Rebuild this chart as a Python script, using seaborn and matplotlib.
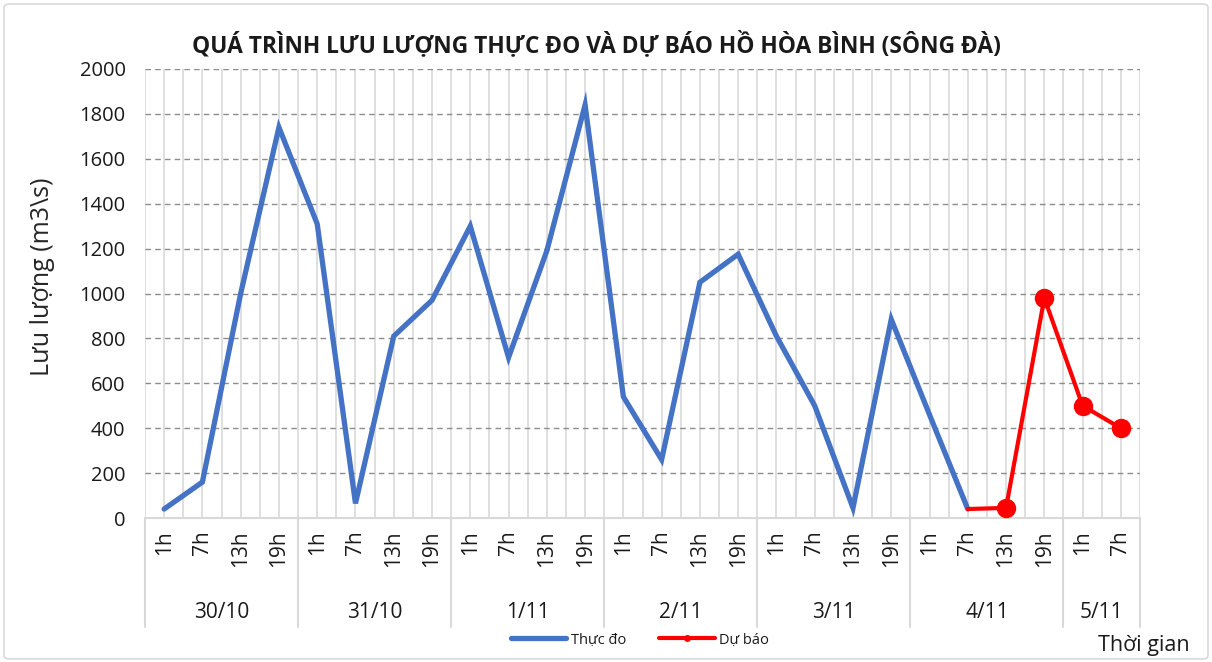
import numpy as np
import pandas as pd
import matplotlib
matplotlib.use("Agg")
import matplotlib.pyplot as plt
import matplotlib.transforms as mtransforms
from matplotlib.lines import Line2D
from matplotlib.patches import FancyBboxPatch
import seaborn as sns

# data
days = ['30/10', '31/10', '1/11', '2/11', '3/11', '4/11', '5/11']
day_sizes = [4, 4, 4, 4, 4, 4, 2]
hours = ['1h', '7h', '13h', '19h',
         '1h', '7h', '13h', '19h',
         '1h', '7h', '13h', '19h',
         '1h', '7h', '13h', '19h',
         '1h', '7h', '13h', '19h',
         '1h', '7h', '13h', '19h',
         '1h', '7h']
observed = [40, 160, 1000, 1740, 1310, 65, 810, 970, 1300, 715, 1190, 1840,
            540, 260, 1050, 1175, 810, 500, 45, 885, 460, 40]
forecast = [40, 45, 980, 500, 400]   # from 4/11 7h to 5/11 7h

pos = np.arange(len(hours))
df_obs = pd.DataFrame({'pos': pos[:len(observed)], 'q': observed})
df_fc = pd.DataFrame({'pos': pos[len(pos) - len(forecast):], 'q': forecast})

sns.set_style("white")
plt.rcParams['font.family'] = ['Open Sans', 'DejaVu Sans']
plt.rcParams['text.color'] = '#1a1a1a'
plt.rcParams['xtick.color'] = '#1a1a1a'
plt.rcParams['ytick.color'] = '#1a1a1a'

BLUE = '#4472C4'
RED = '#FF0000'
GRID = '#d9d9d9'

fig = plt.figure(figsize=(12.12, 6.62), dpi=100)
ax = fig.add_axes([145 / 1212, 1 - 518 / 662, 995 / 1212, 449 / 662])

sns.lineplot(data=df_obs, x='pos', y='q', ax=ax, color=BLUE, lw=3.8,
             solid_joinstyle='miter', zorder=4)
sns.lineplot(data=df_fc, x='pos', y='q', ax=ax, color=RED, lw=3.0,
             marker='o', markersize=14, markeredgewidth=0,
             markevery=list(range(1, len(forecast))), zorder=5)

ax.set_xlim(-0.5, len(hours) - 0.5)
ax.set_ylim(0, 2000)
ax.set_yticks(np.arange(0, 2001, 200))
ax.set_xticks(pos)
ax.set_xticklabels(hours, rotation=90, va='top', fontsize=15)
ax.set_xticks(np.arange(-0.5, len(hours), 1.0), minor=True)
ax.tick_params(axis='x', which='both', length=0, pad=9)
ax.tick_params(axis='y', length=0, pad=14, labelsize=14.5)

ax.grid(axis='x', which='both', color=GRID, lw=1.2, ls='-')
ax.grid(axis='y', which='major', color='#8c8c8c', lw=1.0, ls=(0, (4, 3)))
ax.set_axisbelow(True)
for s in ['left', 'right', 'top']:
    ax.spines[s].set_visible(False)
ax.spines['bottom'].set_color(GRID)
ax.spines['bottom'].set_linewidth(1.5)
ax.set_xlabel('')
ax.set_ylabel('Lưu lượng (m3\\s)', fontsize=18)
ax.yaxis.set_label_coords(-0.0905, (518 - 277) / 449)

# two level category axis: day groups
trans = mtransforms.blended_transform_factory(ax.transData, ax.transAxes)
start = 0
bounds = [-0.5]
for d, n in zip(days, day_sizes):
    center = start + (n - 1) / 2
    ax.text(center, -0.21, d, transform=trans, ha='center', va='center', fontsize=15)
    start += n
    bounds.append(start - 0.5)
for b in bounds:
    ax.plot([b, b], [0, -0.243], transform=trans, color=GRID, lw=1.5, clip_on=False)

fig.text(0.4925, 1 - 45 / 662, 'QUÁ TRÌNH LƯU LƯỢNG THỰC ĐO VÀ DỰ BÁO HỒ HÒA BÌNH (SÔNG ĐÀ)',
         ha='center', va='center', fontsize=16.4, fontweight='bold')
fig.text(1190 / 1212, 1 - 645 / 662, 'Thời gian', ha='right', va='center', fontsize=15.5)

handles = [Line2D([], [], color=BLUE, lw=3.8),
           Line2D([], [], color=RED, lw=3.0, marker='o', markersize=4)]
fig.legend(handles, ['Thực đo', 'Dự báo'], loc='center',
           bbox_to_anchor=(640 / 1212, 1 - 640 / 662), ncol=2, frameon=False,
           fontsize=10.5, handlelength=3.8, handletextpad=0.3, columnspacing=2.3)

fig.patches.append(FancyBboxPatch((4 / 1212, 3 / 662), 1204 / 1212, 655 / 662,
                                  boxstyle='round,pad=0,rounding_size=0.005',
                                  transform=fig.transFigure, fill=False,
                                  edgecolor=GRID, lw=1.2))

fig.savefig('out.png', dpi=100)
